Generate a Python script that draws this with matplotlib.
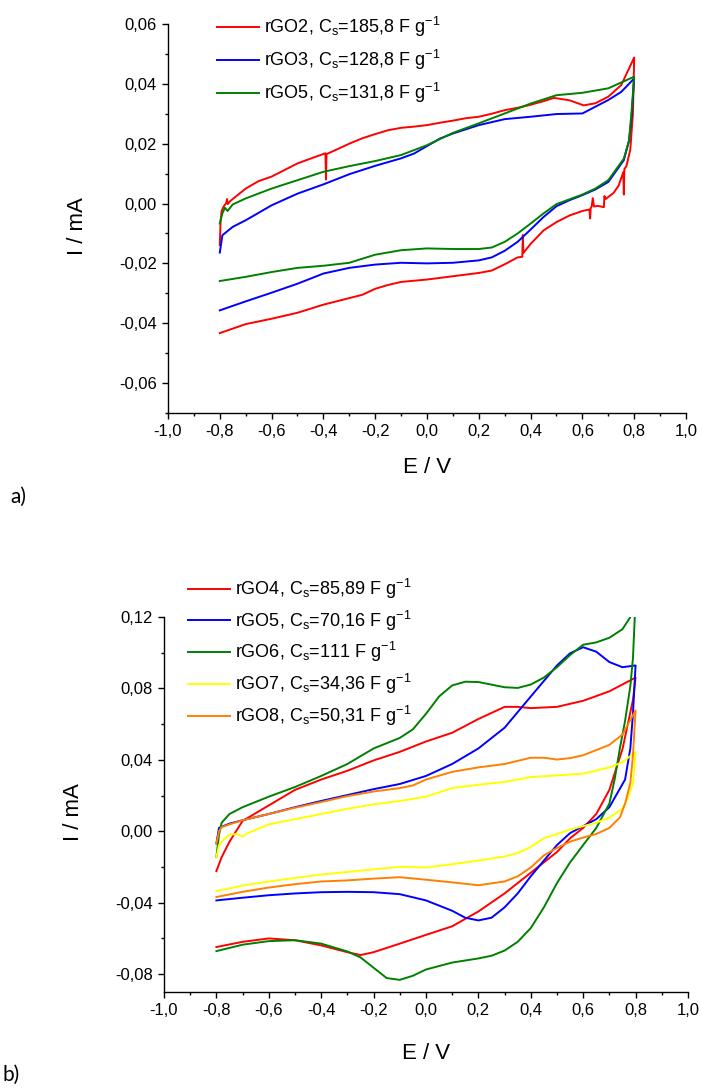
import matplotlib
matplotlib.use("Agg")
import matplotlib.pyplot as plt
from matplotlib.ticker import MultipleLocator, FuncFormatter

plt.rcParams["font.family"] = ["Liberation Sans", "DejaVu Sans"]
plt.rcParams["mathtext.fontset"] = "custom"
plt.rcParams["mathtext.rm"] = "Liberation Sans"
plt.rcParams["mathtext.it"] = "Liberation Sans"

# ---- panel a) data: potential E / V and current I / mA (forward then reverse scan)
rgo2_e = [-0.800, -0.797, -0.793, -0.785, -0.775, -0.772, -0.769, -0.760, -0.750, -0.700,
          -0.650, -0.600, -0.550, -0.500, -0.450, -0.392, -0.390, -0.388, -0.350, -0.300,
          -0.250, -0.200, -0.150, -0.100, -0.050, 0.000, 0.050, 0.100, 0.150, 0.200,
          0.250, 0.300, 0.350, 0.400, 0.450, 0.490, 0.550, 0.605, 0.650, 0.700,
          0.750, 0.800,
          0.795, 0.785, 0.770, 0.762, 0.760, 0.758, 0.740, 0.720, 0.700, 0.690,
          0.685, 0.683, 0.660, 0.645, 0.640, 0.636, 0.632, 0.630, 0.627, 0.600,
          0.550, 0.500, 0.450, 0.400, 0.372, 0.370, 0.368, 0.350, 0.300, 0.250,
          0.200, 0.100, 0.000, -0.050, -0.100, -0.150, -0.200, -0.250, -0.300, -0.400,
          -0.500, -0.600, -0.700, -0.800]
rgo2_i = [-0.0139, -0.0060, -0.0025, -0.0010, 0.0002, 0.0015, -0.0002, 0.0008, 0.0015, 0.0050,
          0.0075, 0.0090, 0.0112, 0.0134, 0.0150, 0.0168, 0.0080, 0.0165, 0.0180, 0.0200,
          0.0218, 0.0232, 0.0245, 0.0253, 0.0257, 0.0262, 0.0270, 0.0277, 0.0285, 0.0290,
          0.0300, 0.0312, 0.0320, 0.0330, 0.0342, 0.0353, 0.0345, 0.0328, 0.0335, 0.0357,
          0.0396, 0.0488,
          0.0300, 0.0180, 0.0125, 0.0115, 0.0030, 0.0105, 0.0060, 0.0035, 0.0022, 0.0015,
          0.0025, -0.0012, -0.0008, -0.0010, 0.0018, -0.0010, -0.0015, -0.0050, -0.0020, -0.0025,
          -0.0040, -0.0062, -0.0090, -0.0135, -0.0165, -0.0105, -0.0178, -0.0180, -0.0203, -0.0224,
          -0.0232, -0.0243, -0.0254, -0.0258, -0.0262, -0.0272, -0.0285, -0.0305, -0.0316, -0.0338,
          -0.0365, -0.0385, -0.0403, -0.0433]

rgo3_e = [-0.800, -0.790, -0.750, -0.700, -0.600, -0.500, -0.400, -0.300, -0.200, -0.100,
          -0.050, 0.000, 0.050, 0.100, 0.200, 0.300, 0.400, 0.500, 0.600, 0.700,
          0.750, 0.800,
          0.790, 0.780, 0.760, 0.700, 0.650, 0.600, 0.550, 0.500, 0.450, 0.400,
          0.350, 0.300, 0.250, 0.200, 0.100, 0.000, -0.100, -0.200, -0.300, -0.400,
          -0.500, -0.600, -0.700, -0.800]
rgo3_i = [-0.0164, -0.0106, -0.0078, -0.0056, -0.0006, 0.0033, 0.0064, 0.0098, 0.0126, 0.0151,
          0.0167, 0.0192, 0.0217, 0.0234, 0.0262, 0.0282, 0.0290, 0.0299, 0.0301, 0.0346,
          0.0373, 0.0418,
          0.0290, 0.0210, 0.0145, 0.0072, 0.0047, 0.0028, 0.0011, -0.0009, -0.0045, -0.0087,
          -0.0128, -0.0158, -0.0180, -0.0190, -0.0198, -0.0200, -0.0198, -0.0204, -0.0215, -0.0234,
          -0.0268, -0.0298, -0.0327, -0.0357]

rgo5a_e = [-0.800, -0.790, -0.780, -0.770, -0.750, -0.700, -0.600, -0.500, -0.400, -0.300,
           -0.200, -0.100, 0.000, 0.100, 0.200, 0.300, 0.400, 0.500, 0.600, 0.700,
           0.800,
           0.790, 0.780, 0.760, 0.700, 0.650, 0.600, 0.550, 0.500, 0.450, 0.400,
           0.350, 0.300, 0.250, 0.200, 0.100, 0.000, -0.100, -0.200, -0.300, -0.400,
           -0.500, -0.600, -0.700, -0.800]
rgo5a_i = [-0.0067, -0.0033, -0.0014, -0.0025, -0.0003, 0.0017, 0.0050, 0.0078, 0.0106, 0.0125,
           0.0142, 0.0162, 0.0195, 0.0236, 0.0268, 0.0301, 0.0334, 0.0362, 0.0370, 0.0385,
           0.0424,
           0.0310, 0.0210, 0.0150, 0.0078, 0.0050, 0.0030, 0.0014, -0.0002, -0.0033, -0.0067,
           -0.0100, -0.0128, -0.0147, -0.0152, -0.0152, -0.0150, -0.0156, -0.0171, -0.0198, -0.0208,
           -0.0215, -0.0229, -0.0245, -0.0259]

labels_a = ["rGO2, C$_\\mathregular{s}$=185,8 F g$^\\mathregular{-1}$",
            "rGO3, C$_\\mathregular{s}$=128,8 F g$^\\mathregular{-1}$",
            "rGO5, C$_\\mathregular{s}$=131,8 F g$^\\mathregular{-1}$"]

# ---- panel b) data
rgo4_e = [-0.800, -0.780, -0.750, -0.700, -0.600, -0.500, -0.400, -0.300, -0.200, -0.100,
          0.000, 0.100, 0.200, 0.300, 0.350, 0.400, 0.500, 0.600, 0.700, 0.800,
          0.790, 0.750, 0.700, 0.650, 0.600, 0.550, 0.500, 0.450, 0.400, 0.300,
          0.200, 0.100, 0.000, -0.100, -0.200, -0.250, -0.300, -0.400, -0.500, -0.600,
          -0.700, -0.800]
rgo4_i = [-0.0223, -0.0145, -0.0058, 0.0058, 0.0145, 0.0232, 0.0290, 0.0339, 0.0397, 0.0445,
          0.0503, 0.0552, 0.0629, 0.0697, 0.0697, 0.0690, 0.0697, 0.0731, 0.0784, 0.0861,
          0.0735, 0.0460, 0.0232, 0.0097, 0.0019, -0.0039, -0.0116, -0.0174, -0.0232, -0.0348,
          -0.0449, -0.0532, -0.0580, -0.0629, -0.0677, -0.0693, -0.0677, -0.0639, -0.0610, -0.0600,
          -0.0619, -0.0648]

rgo5b_e = [-0.800, -0.790, -0.750, -0.700, -0.600, -0.500, -0.400, -0.300, -0.200, -0.100,
           0.000, 0.100, 0.200, 0.300, 0.400, 0.500, 0.550, 0.600, 0.650, 0.700,
           0.750, 0.800,
           0.790, 0.780, 0.760, 0.700, 0.650, 0.600, 0.550, 0.500, 0.450, 0.400,
           0.350, 0.300, 0.250, 0.200, 0.150, 0.100, 0.000, -0.100, -0.200, -0.300,
           -0.400, -0.500, -0.600, -0.700, -0.800]
rgo5b_i = [-0.0068, 0.0019, 0.0043, 0.0062, 0.0097, 0.0135, 0.0170, 0.0203, 0.0236, 0.0265,
           0.0310, 0.0377, 0.0464, 0.0580, 0.0755, 0.0929, 0.0997, 0.1031, 0.1006, 0.0948,
           0.0919, 0.0929,
           0.0658, 0.0464, 0.0290, 0.0135, 0.0068, 0.0029, -0.0010, -0.0077, -0.0164, -0.0252,
           -0.0348, -0.0426, -0.0484, -0.0499, -0.0484, -0.0445, -0.0387, -0.0352, -0.0341, -0.0339,
           -0.0341, -0.0348, -0.0358, -0.0372, -0.0387]

rgo6_e = [-0.800, -0.790, -0.780, -0.750, -0.700, -0.600, -0.500, -0.400, -0.300, -0.200,
          -0.100, -0.050, 0.000, 0.050, 0.100, 0.150, 0.200, 0.300, 0.350, 0.400,
          0.450, 0.500, 0.550, 0.600, 0.650, 0.700, 0.750, 0.780, 0.800,
          0.790, 0.780, 0.760, 0.740, 0.720, 0.700, 0.650, 0.600, 0.550, 0.500,
          0.450, 0.400, 0.350, 0.300, 0.250, 0.200, 0.100, 0.000, -0.050, -0.100,
          -0.150, -0.200, -0.250, -0.300, -0.400, -0.500, -0.600, -0.700, -0.800]
rgo6_i = [-0.0145, -0.0019, 0.0048, 0.0097, 0.0135, 0.0194, 0.0248, 0.0310, 0.0377, 0.0464,
          0.0523, 0.0571, 0.0658, 0.0755, 0.0817, 0.0838, 0.0836, 0.0807, 0.0803, 0.0822,
          0.0861, 0.0919, 0.0987, 0.1045, 0.1058, 0.1084, 0.1132, 0.1200, 0.1300,
          0.0968, 0.0813, 0.0619, 0.0464, 0.0290, 0.0155, 0.0019, -0.0077, -0.0174, -0.0290,
          -0.0426, -0.0542, -0.0619, -0.0668, -0.0697, -0.0712, -0.0735, -0.0774, -0.0809, -0.0832,
          -0.0822, -0.0764, -0.0706, -0.0673, -0.0629, -0.0610, -0.0615, -0.0635, -0.0671]

rgo7_e = [-0.800, -0.790, -0.770, -0.750, -0.720, -0.700, -0.680, -0.600, -0.500, -0.400,
          -0.300, -0.200, -0.100, 0.000, 0.100, 0.200, 0.300, 0.400, 0.500, 0.600,
          0.700, 0.750, 0.800,
          0.790, 0.770, 0.750, 0.700, 0.650, 0.600, 0.550, 0.500, 0.450, 0.400,
          0.350, 0.300, 0.200, 0.100, 0.000, -0.100, -0.200, -0.300, -0.400, -0.500,
          -0.600, -0.700, -0.800]
rgo7_i = [-0.0145, -0.0077, -0.0043, -0.0019, -0.0015, -0.0029, -0.0010, 0.0039, 0.0068, 0.0097,
          0.0126, 0.0151, 0.0170, 0.0194, 0.0242, 0.0261, 0.0277, 0.0304, 0.0313, 0.0323,
          0.0358, 0.0387, 0.0445,
          0.0271, 0.0184, 0.0126, 0.0077, 0.0048, 0.0029, 0.0010, -0.0015, -0.0039, -0.0087,
          -0.0122, -0.0141, -0.0164, -0.0184, -0.0203, -0.0199, -0.0213, -0.0228, -0.0242, -0.0261,
          -0.0281, -0.0304, -0.0335]

rgo8_e = [-0.800, -0.790, -0.780, -0.750, -0.700, -0.600, -0.500, -0.400, -0.300, -0.200,
          -0.100, -0.050, 0.000, 0.100, 0.200, 0.300, 0.400, 0.450, 0.500, 0.550,
          0.600, 0.700, 0.750, 0.800,
          0.790, 0.780, 0.760, 0.740, 0.700, 0.650, 0.600, 0.550, 0.500, 0.450,
          0.400, 0.350, 0.300, 0.200, 0.100, 0.000, -0.100, -0.200, -0.300, -0.400,
          -0.500, -0.600, -0.700, -0.800]
rgo8_i = [-0.0068, 0.0000, 0.0023, 0.0039, 0.0062, 0.0097, 0.0132, 0.0164, 0.0197, 0.0223,
          0.0242, 0.0257, 0.0290, 0.0333, 0.0358, 0.0377, 0.0412, 0.0412, 0.0402, 0.0410,
          0.0426, 0.0484, 0.0542, 0.0677,
          0.0426, 0.0271, 0.0155, 0.0077, 0.0019, -0.0015, -0.0035, -0.0058, -0.0093, -0.0135,
          -0.0203, -0.0252, -0.0281, -0.0302, -0.0286, -0.0271, -0.0257, -0.0265, -0.0275, -0.0281,
          -0.0296, -0.0315, -0.0339, -0.0368]

labels_b = ["rGO4, C$_\\mathregular{s}$=85,89 F g$^\\mathregular{-1}$",
            "rGO5, C$_\\mathregular{s}$=70,16 F g$^\\mathregular{-1}$",
            "rGO6, C$_\\mathregular{s}$=111 F g$^\\mathregular{-1}$",
            "rGO7, C$_\\mathregular{s}$=34,36 F g$^\\mathregular{-1}$",
            "rGO8, C$_\\mathregular{s}$=50,31 F g$^\\mathregular{-1}$"]

RED, BLUE, GREEN, YELLOW, ORANGE = "#ff0000", "#0000ff", "#008000", "#ffff00", "#ff8000"


def comma_fmt(decimals):
    return FuncFormatter(lambda v, pos: f"{v:.{decimals}f}".replace(".", ","))


def style_axes(ax, ymin, ymax, ystep):
    ax.set_xlim(-1.0, 1.0)
    ax.set_ylim(ymin, ymax)
    ax.spines["top"].set_visible(False)
    ax.spines["right"].set_visible(False)
    for side in ("left", "bottom"):
        ax.spines[side].set_linewidth(1.0)
    ax.xaxis.set_major_locator(MultipleLocator(0.2))
    ax.xaxis.set_minor_locator(MultipleLocator(0.1))
    ax.yaxis.set_major_locator(MultipleLocator(ystep))
    ax.yaxis.set_minor_locator(MultipleLocator(ystep / 2))
    ax.xaxis.set_major_formatter(comma_fmt(1))
    ax.yaxis.set_major_formatter(comma_fmt(2))
    ax.tick_params(which="major", direction="out", length=4.5, width=1.0, labelsize=12)
    ax.tick_params(which="minor", direction="out", length=2.5, width=1.0)
    ax.set_xlabel("E / V", fontsize=16)
    ax.set_ylabel("I / mA", fontsize=16)


fig = plt.figure(figsize=(7.02, 10.90), dpi=100)

# panel a)
ax1 = fig.add_axes([0.2393, 0.6211, 0.7379, 0.3569])
ax1.plot(rgo2_e, rgo2_i, color=RED, lw=1.4, label=labels_a[0])
ax1.plot(rgo3_e, rgo3_i, color=BLUE, lw=1.4, label=labels_a[1])
ax1.plot(rgo5a_e, rgo5a_i, color=GREEN, lw=1.4, label=labels_a[2])
style_axes(ax1, -0.07, 0.06, 0.02)
ax1.xaxis.set_label_coords(0.5, -0.139)
ax1.xaxis.label.set_va("center")
ax1.yaxis.set_label_coords(-0.174, 0.48)
ax1.yaxis.label.set_va("center")
ax1.legend(loc="upper left", bbox_to_anchor=(217 / 702, 1 - 15 / 1090),
           bbox_transform=fig.transFigure, frameon=False, fontsize=13,
           borderpad=0, borderaxespad=0, handlelength=2.3, handletextpad=0.3,
           labelspacing=0.5)

# panel b)
ax2 = fig.add_axes([0.2336, 0.0899, 0.7464, 0.3440])
ax2.plot(rgo4_e, rgo4_i, color=RED, lw=1.4, label=labels_b[0])
ax2.plot(rgo5b_e, rgo5b_i, color=BLUE, lw=1.4, label=labels_b[1])
ax2.plot(rgo6_e, rgo6_i, color=GREEN, lw=1.4, label=labels_b[2])
ax2.plot(rgo7_e, rgo7_i, color=YELLOW, lw=1.4, label=labels_b[3])
ax2.plot(rgo8_e, rgo8_i, color=ORANGE, lw=1.4, label=labels_b[4])
style_axes(ax2, -0.09, 0.12, 0.04)
ax2.xaxis.set_label_coords(0.5, -0.165)
ax2.xaxis.label.set_va("center")
ax2.yaxis.set_label_coords(-0.172, 0.48)
ax2.yaxis.label.set_va("center")
ax2.legend(loc="upper left", bbox_to_anchor=(188 / 702, 1 - 577 / 1090),
           bbox_transform=fig.transFigure, frameon=False, fontsize=13,
           borderpad=0, borderaxespad=0, handlelength=2.3, handletextpad=0.3,
           labelspacing=0.42)

fig.text(10 / 702, 1 - 497 / 1090, "a)", fontsize=15, family=["Lato", "DejaVu Sans"],
         va="center", ha="left")
fig.text(3 / 702, 1 - 1075 / 1090, "b)", fontsize=15, family=["Lato", "DejaVu Sans"],
         va="center", ha="left")

fig.savefig("out.png", dpi=100)
